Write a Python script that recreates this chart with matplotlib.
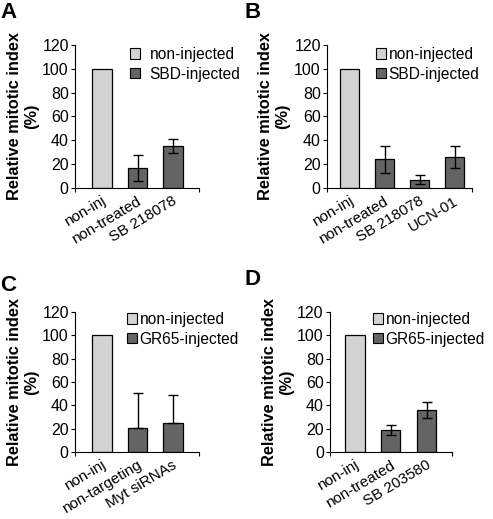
#! /usr/bin/env python3

import matplotlib
matplotlib.use("Agg")
import matplotlib.pyplot as plt
from matplotlib.patches import Patch
from matplotlib.transforms import ScaledTranslation
import numpy

plt.rcParams['font.family'] = ['Liberation Sans', 'DejaVu Sans']

"""
Data
"""

cats_a = ["non-inj", "non-treated", "SB 218078"]
vals_a = [100, 17, 35]
err_a  = [0, 11, 6]

cats_b = ["non-inj", "non-treated", "SB 218078", "UCN-01"]
vals_b = [100, 24, 7, 26]
err_b  = [0, 11, 4, 9]

cats_c = ["non-inj", "non-targeting", "Myt siRNAs"]
vals_c = [100, 21, 25]
err_c  = [0, 30, 24]   # only upper error bars drawn

cats_d = ["non-inj", "non-treated", "SB 203580"]
vals_d = [100, 19, 36]
err_d  = [0, 4.5, 6.5]

legend_sbd  = ["non-injected", "SBD-injected"]
legend_gr65 = ["non-injected", "GR65-injected"]

ylabel = "Relative mitotic index\n(%)"

LIGHT = "#d3d3d3"
DARK  = "#646464"

W, H = 493, 519
fig = plt.figure(figsize=(W / 100, H / 100), dpi=100)


def px_axes(left, top, right, bottom):
    return fig.add_axes([left / W, 1 - bottom / H, (right - left) / W, (bottom - top) / H])


def panel(box, cats, vals, err, upper_only, labels, letter, letter_xy,
          label_x, leg_xy, textpad, xlim):
    ax = px_axes(*box)
    x = numpy.arange(len(cats))
    colors = [LIGHT] + [DARK] * (len(cats) - 1)
    ax.bar(x, vals, width=0.54, color=colors, edgecolor="black", linewidth=0.9, zorder=2)

    xs = x[1:]
    ys = numpy.array(vals[1:])
    up = numpy.array(err[1:])
    low = numpy.zeros_like(up) if upper_only else up
    ax.errorbar(xs, ys, yerr=[low, up], fmt="none", ecolor="black",
                elinewidth=1, capsize=3.5, capthick=1, zorder=3)

    ax.set_ylim(0, 120)
    ax.set_xlim(*xlim)
    ax.set_yticks(range(0, 121, 20))
    ax.tick_params(axis="y", labelsize=11.5, length=3, width=0.8, pad=1.5, direction="out")

    # category labels drawn as rotated texts under each bar
    ax.set_xticks(list(xlim))
    ax.set_xticklabels([])
    ax.tick_params(axis="x", length=3, width=0.8, direction="out")
    off = ScaledTranslation(-1 / 100, -6 / 100, fig.dpi_scale_trans)
    for xi, c in zip(x, cats):
        ax.text(xi, 0, c, transform=ax.get_xaxis_transform() + off,
                rotation=31, rotation_mode="anchor", ha="right", va="top",
                fontsize=11)

    for s in ["top", "right"]:
        ax.spines[s].set_visible(False)
    for s in ["left", "bottom"]:
        ax.spines[s].set_linewidth(0.8)

    handles = [Patch(facecolor=LIGHT, edgecolor="black", linewidth=0.8),
               Patch(facecolor=DARK, edgecolor="black", linewidth=0.8)]
    ax.legend(handles, labels, loc="upper left",
              bbox_to_anchor=(leg_xy[0] / W, 1 - leg_xy[1] / H),
              bbox_transform=fig.transFigure, frameon=False, fontsize=11.2,
              handlelength=0.65, handleheight=0.65, handletextpad=textpad,
              labelspacing=0.3, borderpad=0, borderaxespad=0)

    top, bottom = box[1], box[3]
    fig.text(label_x / W, 1 - ((top + bottom) / 2) / H, ylabel, rotation=90,
             ha="center", va="center", multialignment="center",
             fontsize=11.8, fontweight="bold")
    fig.text(letter_xy[0] / W, 1 - letter_xy[1] / H, letter, ha="left", va="top",
             fontsize=16, fontweight="bold")
    return ax


panel((75, 45, 199, 188), cats_a, vals_a, err_a, False, legend_sbd, "A", (0, 2),
      23, (130, 47), 0.6, (-0.76, 2.73))
panel((327, 45, 472, 188), cats_b, vals_b, err_b, False, legend_sbd, "B", (245, 2),
      274, (376, 47), 0.15, (-0.65, 3.5))
panel((75, 312, 199, 452), cats_c, vals_c, err_c, True, legend_gr65, "C", (0, 275),
      23, (127, 312), 0.15, (-0.76, 2.73))
panel((330, 312, 452, 452), cats_d, vals_d, err_d, False, legend_gr65, "D", (245, 269),
      278, (373, 312), 0.15, (-0.7, 2.71))

fig.savefig("out.png", dpi=100)
